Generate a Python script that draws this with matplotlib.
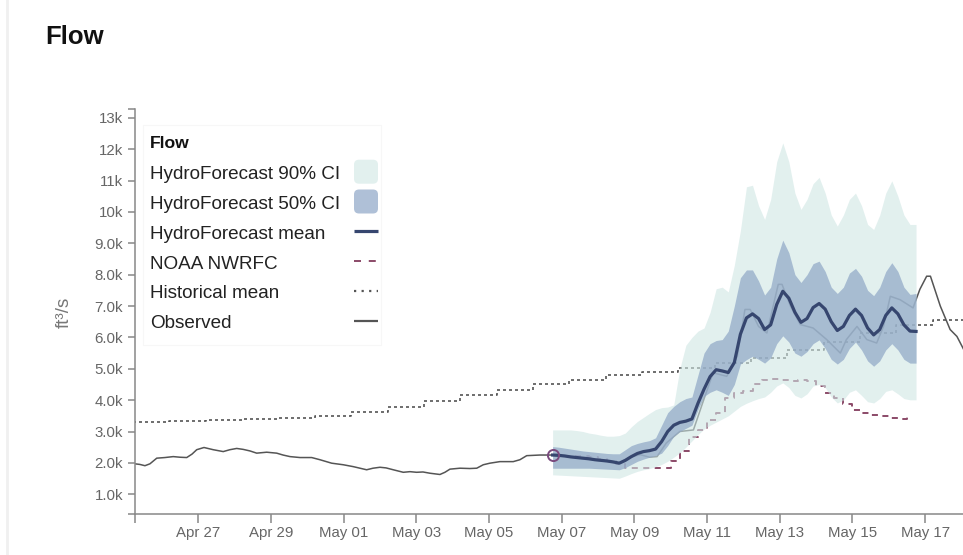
import numpy as np
import pandas as pd
import matplotlib
matplotlib.use('Agg')
import matplotlib.pyplot as plt
from matplotlib.patches import FancyBboxPatch, Rectangle
from matplotlib.lines import Line2D

plt.rcParams['font.family'] = ['Liberation Sans', 'DejaVu Sans']

t0 = pd.Timestamp('2023-04-25 00:00')

# observed flow, hours since Apr 25 00:00 / kcfs
obs_hours = [6.2, 9.5, 12.8, 16.1, 20.6, 26, 31.5, 36, 40.4, 43.9, 47, 51.8, 57.9, 64.5,
             68.9, 73.4, 77.7, 82.2, 86.6, 93.2, 99.8, 104, 108.6, 115.2, 122.9, 128.4,
             136.1, 143.8, 150.4, 154.8, 159.2, 163.4, 168, 172, 176.8, 183.4, 187.8,
             192.2, 196.4, 201, 207.6, 210.9, 214.2, 220.8, 227.4, 231.9, 236.2, 240.6,
             247.2, 256, 260.4, 264.9, 273.6, 282,
             287, 300, 313, 326, 333, 340, 346, 351, 357, 366, 375, 381, 388, 397, 404,
             409, 412.5, 418, 423.5, 431, 433.5, 439, 445.5, 454, 463, 472, 476, 483,
             489.5, 496, 500.5, 505, 511.5, 520, 524.5, 529, 531.5, 538, 544.5, 549, 553.5]
obs_flow = [1.97, 1.95, 1.91, 1.97, 2.15, 2.17, 2.20, 2.18, 2.17, 2.28, 2.42, 2.49, 2.42, 2.36,
            2.42, 2.46, 2.43, 2.38, 2.31, 2.34, 2.31, 2.25, 2.20, 2.17, 2.17, 2.10,
            1.99, 1.94, 1.88, 1.83, 1.78, 1.83, 1.86, 1.84, 1.78, 1.70, 1.72,
            1.70, 1.71, 1.67, 1.63, 1.70, 1.80, 1.83, 1.82, 1.83, 1.94, 1.99,
            2.04, 2.04, 2.10, 2.23, 2.25, 2.25,
            2.22, 2.15, 2.07, 2.00, 2.18, 2.26, 2.18, 2.20, 2.63, 3.00, 3.05, 3.90, 4.87, 4.76, 5.40,
            6.89, 6.89, 6.35, 6.14, 7.69, 7.69, 7.00, 6.41, 6.30, 5.93, 5.50, 5.93, 6.35,
            5.93, 5.82, 6.35, 7.31, 7.20, 6.94, 7.53, 7.95, 7.95, 7.00, 6.25, 6.03, 5.61]

# historical daily mean (day starts at 05:00)
hist_hours = [5 + 24 * k for k in range(24)]
hist_flow = [3.29, 3.33, 3.37, 3.40, 3.44, 3.49, 3.62, 3.77, 3.96, 4.16, 4.33, 4.51,
             4.65, 4.79, 4.91, 5.04, 5.18, 5.35, 5.60, 5.84, 6.14, 6.39, 6.57, 6.57]

# HydroForecast, 4-hourly from May 6 18:00
fc_hours = [282 + 4 * i for i in range(61)]
fc_mean = [2.25, 2.24, 2.22, 2.19, 2.17, 2.15, 2.13, 2.10, 2.08, 2.06, 2.03, 1.99,
           2.08, 2.20, 2.30, 2.36, 2.39, 2.44, 2.68, 3.00, 3.20, 3.29, 3.33, 3.40,
           3.90, 4.35, 4.75, 4.97, 4.93, 4.88, 5.20, 6.10, 6.62, 6.75, 6.60, 6.25,
           6.40, 7.05, 7.47, 7.25, 6.80, 6.48, 6.60, 6.95, 7.08, 6.90, 6.50, 6.22,
           6.35, 6.70, 6.90, 6.70, 6.30, 6.08, 6.25, 6.70, 6.94, 6.75, 6.40, 6.20, 6.19]
fc_p75 = [2.52, 2.50, 2.47, 2.44, 2.41, 2.38, 2.36, 2.34, 2.32, 2.30, 2.29, 2.29,
          2.42, 2.55, 2.62, 2.67, 2.71, 2.80, 3.20, 3.60, 3.80, 3.95, 4.05, 4.10,
          4.80, 5.50, 5.80, 5.90, 5.93, 6.20, 7.00, 7.90, 8.15, 8.15, 7.80, 7.35,
          7.60, 8.50, 9.10, 8.70, 8.00, 7.75, 8.00, 8.35, 8.43, 8.10, 7.60, 7.40,
          7.60, 8.05, 8.20, 7.95, 7.50, 7.33, 7.60, 8.10, 8.38, 8.10, 7.60, 7.37, 7.40]
fc_p25 = [1.83, 1.83, 1.83, 1.83, 1.83, 1.83, 1.83, 1.82, 1.81, 1.80, 1.79, 1.78,
          1.85, 1.95, 2.05, 2.12, 2.18, 2.23, 2.31, 2.55, 2.85, 3.00, 3.10, 3.20,
          3.70, 4.12, 4.25, 4.33, 4.25, 4.15, 4.50, 5.15, 5.29, 5.40, 5.30, 5.18,
          5.35, 5.80, 6.05, 5.85, 5.50, 5.40, 5.55, 5.80, 5.92, 5.65, 5.30, 5.15,
          5.30, 5.65, 5.85, 5.60, 5.25, 5.08, 5.25, 5.60, 5.80, 5.60, 5.30, 5.18, 5.18]
fc_p95 = [3.05, 3.05, 3.05, 3.05, 3.03, 3.00, 2.95, 2.92, 2.88, 2.85, 2.85, 2.87,
          2.95, 3.15, 3.32, 3.45, 3.58, 3.70, 3.76, 3.78, 3.85, 5.00, 5.75, 6.00,
          6.20, 6.30, 6.80, 7.55, 7.60, 7.45, 8.30, 9.40, 10.8, 10.85, 10.2, 9.76,
          10.4, 11.6, 12.2, 11.6, 10.6, 10.08, 10.4, 10.9, 11.1, 10.6, 9.90, 9.55,
          9.90, 10.4, 10.6, 10.2, 9.60, 9.44, 9.90, 10.6, 10.99, 10.5, 9.90, 9.60, 9.60]
fc_p05 = [1.62, 1.61, 1.60, 1.59, 1.58, 1.57, 1.56, 1.55, 1.54, 1.53, 1.52, 1.51,
          1.58, 1.66, 1.73, 1.78, 1.82, 1.88, 1.95, 2.05, 2.18, 2.32, 2.50, 2.70,
          2.90, 3.08, 3.20, 3.30, 3.40, 3.50, 3.65, 3.80, 3.90, 3.98, 4.05, 4.10,
          4.25, 4.45, 4.55, 4.40, 4.15, 4.07, 4.20, 4.45, 4.50, 4.40, 4.10, 3.91,
          4.00, 4.25, 4.33, 4.15, 3.95, 3.91, 4.05, 4.28, 4.33, 4.20, 4.05, 4.01, 4.01]

# NOAA NWRFC, 6-hourly from May 6 18:00
nwrfc_hours = [282 + 6 * k for k in range(40)]
nwrfc_flow = [2.24, 2.23, 2.22, 2.22, 2.18, 2.13, 2.05, 1.97, 1.85, 1.83, 1.83, 1.83,
              1.83, 2.05, 2.38, 2.84, 3.05, 3.37, 3.59, 4.07, 4.23, 4.30, 4.50, 4.65,
              4.67, 4.65, 4.62, 4.63, 4.60, 4.45, 4.22, 4.07, 3.88, 3.70, 3.60, 3.53,
              3.48, 3.44, 3.40, 3.48]

y_ticks = [1000 * k for k in range(1, 14)]
y_tick_labels = ['1.0k', '2.0k', '3.0k', '4.0k', '5.0k', '6.0k', '7.0k', '8.0k', '9.0k',
                 '10k', '11k', '12k', '13k']
x_ticks = pd.date_range('2023-04-27', '2023-05-17', freq='2D')

legend_labels = ['HydroForecast 90% CI', 'HydroForecast 50% CI', 'HydroForecast mean',
                 'NOAA NWRFC', 'Historical mean', 'Observed']

c_obs = '#555555'
c_ci90 = '#cfe6e4'
c_ci50 = '#8ea6c6'
c_mean = '#36466f'
c_noaa = '#8b4a68'


def to_time(h):
    return t0 + pd.to_timedelta(np.asarray(h, dtype=float), unit='h')


W, H = 963, 555
fig = plt.figure(figsize=(W / 100, H / 100), dpi=100)
ax = fig.add_axes([135 / W, 1 - 513.7 / H, 828 / W, (513.7 - 109) / H])

k = 1000
ax.plot(to_time(obs_hours), np.array(obs_flow) * k, color=c_obs, lw=1.1, zorder=2)
ax.step(to_time(hist_hours), np.array(hist_flow) * k, where='post', color=c_obs,
        lw=1.2, ls=(0, (1.8, 1.8)), zorder=2)
ax.step(to_time(nwrfc_hours), np.array(nwrfc_flow) * k, where='post', color=c_noaa,
        lw=1.4, ls=(0, (3.1, 2.8)), zorder=2)
fc_t = to_time(fc_hours)
ax.fill_between(fc_t, np.array(fc_p05) * k, np.array(fc_p95) * k, color=c_ci90,
                alpha=0.6, lw=0, zorder=3)
ax.fill_between(fc_t, np.array(fc_p25) * k, np.array(fc_p75) * k, color=c_ci50,
                alpha=0.7, lw=0, zorder=4)
ax.plot(fc_t, np.array(fc_mean) * k, color=c_mean, lw=2.3, zorder=5)
ax.plot(fc_t[:1], [fc_mean[0] * k], 'o', mfc='none', mec='#7a4a7e', ms=8, mew=1.4, zorder=6)

x0, x1 = to_time([6.24, 553])
ax.set_xlim(x0, x1)
ax.set_ylim(380, 13280)
ax.set_yticks(y_ticks)
ax.set_yticklabels(y_tick_labels)
ax.set_xticks(x_ticks)
ax.set_xticklabels(x_ticks.strftime('%b %d'))
ax.set_xticks([x0], minor=True)
ax.set_yticks([380, 13280], minor=True)

for s in ['top', 'right']:
    ax.spines[s].set_visible(False)
for s in ['left', 'bottom']:
    ax.spines[s].set_color('#888888')
    ax.spines[s].set_linewidth(1.1)
ax.tick_params(axis='both', which='both', color='#888888', width=1.1,
               labelcolor='#666666', labelsize=10.8)
ax.tick_params(axis='x', which='both', length=6.5, pad=2.5)
ax.tick_params(axis='y', which='both', length=5, pad=3.5)

fig.text(64 / W, 1 - 312 / H, 'ft³/s', rotation=90, ha='center', va='center',
         color='#777777', fontsize=13.5)
fig.text(45 / W, 1 - 44 / H, 'Flow', fontsize=18.5, fontweight='bold', color='#111111')

# legend, drawn in inch coords measured from the top-left pixel
tr = fig.dpi_scale_trans
def px(x, y):
    return x / 100, (H - y) / 100

bx, by = px(143, 345)
fig.add_artist(Rectangle((bx, by), (381 - 143) / 100, (345 - 125) / 100, transform=tr,
                         facecolor='white', edgecolor='#f7f7f7', lw=0.8, zorder=7))
fig.text(*px(150, 148.3), 'Flow', transform=tr, fontsize=12.6, fontweight='bold',
         color='#111111', zorder=8)
for i, lab in enumerate(legend_labels):
    base = 179.3 + 29.8 * i
    fig.text(*px(150, base), lab, transform=tr, fontsize=13.6, color='#222222', zorder=8)
    cy = base - 7.6
    if i < 2:
        sx, sy = px(354, cy + 12)
        fig.add_artist(FancyBboxPatch((sx, sy), 0.24, 0.24, transform=tr,
                                      boxstyle='round,pad=0,rounding_size=0.05',
                                      facecolor=[c_ci90, c_ci50][i],
                                      alpha=[0.6, 0.7][i], lw=0, zorder=8))
    else:
        lx0, ly = px(354, cy)
        lx1, _ = px(378, cy)
        style = [dict(color=c_mean, lw=2.3),
                 dict(color=c_noaa, lw=1.4, ls=(0, (3.6, 4.0))),
                 dict(color=c_obs, lw=1.6, ls=(0, (1.0, 2.4))),
                 dict(color=c_obs, lw=1.6)][i - 2]
        fig.add_artist(Line2D([lx0, lx1], [ly, ly], transform=tr, zorder=8,
                              solid_capstyle='butt', dash_capstyle='butt', **style))

# card edge on the left
fig.add_artist(Line2D([7 / W, 7 / W], [0, 1], transform=fig.transFigure, color='#f0f0f0', lw=2))

fig.savefig('out.png', dpi=100)
